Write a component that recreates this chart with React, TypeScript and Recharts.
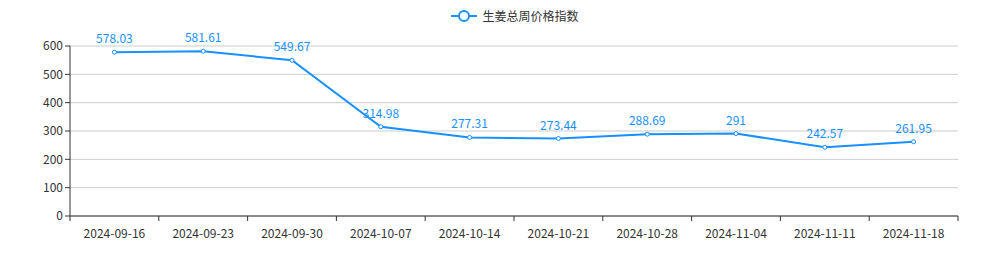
import { LineChart, Line, XAxis, YAxis, CartesianGrid, LabelList } from 'recharts'

const weeks = ['2024-09-16', '2024-09-23', '2024-09-30', '2024-10-07', '2024-10-14', '2024-10-21', '2024-10-28', '2024-11-04', '2024-11-11', '2024-11-18']
const priceIndex = [578.03, 581.61, 549.67, 314.98, 277.31, 273.44, 288.69, 291, 242.57, 261.95]
const yTicks = [0, 100, 200, 300, 400, 500, 600]

const data = weeks.map((w, i) => ({ week: w, value: priceIndex[i] }))

const W = 1004
const H = 258
const LEFT = 70
const RIGHT = 46
const BAND = (W - LEFT - RIGHT) / weeks.length
const FONT = '"Noto Sans CJK SC", "Noto Sans", sans-serif'
const BLUE = '#1890ff'

// 类目轴刻度线画在分界处
const XTick = (props: any) => {
  const { x, y, payload, index } = props
  const left = x - BAND / 2
  return (
    <g>
      <line x1={left} y1={y - 8} x2={left} y2={y - 3} stroke="#333" />
      {index === weeks.length - 1 && (
        <line x1={left + BAND} y1={y - 8} x2={left + BAND} y2={y - 3} stroke="#333" />
      )}
      <text x={x} y={y + 14} textAnchor="middle" fill="#333" fontSize={12} fontFamily={FONT}>
        {payload.value}
      </text>
    </g>
  )
}

export default function App() {
  return (
    <div style={{ position: 'absolute', left: 0, top: 0, width: W, height: H, background: '#fff', fontFamily: FONT }}>
      <div style={{ position: 'absolute', top: 7, left: 0, width: W, display: 'flex', justifyContent: 'center', alignItems: 'center', fontSize: 12, color: '#333' }}>
        <svg width={26} height={14} style={{ marginRight: 5, marginLeft: 26 }}>
          <line x1={0} y1={7} x2={26} y2={7} stroke={BLUE} strokeWidth={2} />
          <circle cx={13} cy={7} r={5} fill="#fff" stroke={BLUE} strokeWidth={2} />
        </svg>
        <span>生姜总周价格指数</span>
      </div>
      <LineChart width={W} height={H} data={data} margin={{ top: 46, right: RIGHT, bottom: 0, left: 0 }}>
        <CartesianGrid vertical={false} stroke="#ccc" />
        <XAxis
          dataKey="week"
          scale="band"
          interval={0}
          stroke="#333"
          tickLine={false}
          tick={<XTick />}
          height={42}
        />
        <YAxis
          domain={[0, 600]}
          ticks={yTicks}
          width={LEFT}
          stroke="#333"
          tickSize={5}
          tick={{ fill: '#333', fontSize: 12, fontFamily: FONT }}
        />
        <Line
          type="linear"
          dataKey="value"
          stroke={BLUE}
          strokeWidth={2}
          dot={{ r: 2, fill: '#fff', stroke: BLUE, strokeWidth: 1 }}
          isAnimationActive={false}
        >
          <LabelList dataKey="value" position="top" offset={9} fill={BLUE} fontSize={12} fontFamily={FONT} />
        </Line>
      </LineChart>
    </div>
  )
}
